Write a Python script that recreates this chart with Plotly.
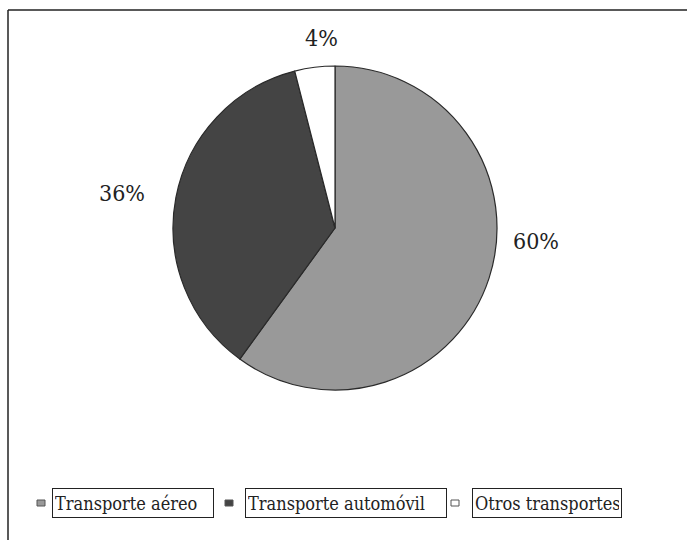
import plotly.graph_objects as go

# Data
categories = ["Transporte aéreo", "Transporte automóvil", "Otros transportes"]
values = [60, 36, 4]
colors = ["#999999", "#444444", "#ffffff"]
pct_labels = ["60%", "36%", "4%"]

W, H = 687, 540
SERIF = "DejaVu Serif Condensed, DejaVu Serif"

def px(x):
    return x / W

def py(y):
    return 1 - y / H

fig = go.Figure()
fig.add_trace(go.Pie(
    labels=categories,
    values=values,
    sort=False,
    direction="clockwise",
    rotation=0,
    marker=dict(colors=colors, line=dict(color="#2a2a2a", width=1.2)),
    textinfo="none",
    hoverinfo="label+percent",
    showlegend=False,
    domain=dict(x=[px(172), px(498)], y=[py(390), py(66)]),
))

label_pos = [(536, 241), (122, 193), (321, 38)]
annotations = []
for txt, (lx, ly) in zip(pct_labels, label_pos):
    annotations.append(dict(
        x=px(lx), y=py(ly), xref="paper", yref="paper",
        text=txt, showarrow=False, xanchor="center", yanchor="middle",
        font=dict(family=SERIF, size=23, color="#222222"),
    ))

marker_x = [41, 229, 455]
box_left = [52, 245, 472]
box_width = [162, 202, 150]
legend_y = 503
shapes = []
for i, cat in enumerate(categories):
    mx = marker_x[i]
    shapes.append(dict(
        type="rect", xref="paper", yref="paper",
        x0=px(mx - 4), x1=px(mx + 4), y0=py(legend_y + 3), y1=py(legend_y - 3),
        fillcolor=colors[i], line=dict(color="#555555", width=1),
    ))
    annotations.append(dict(
        x=px(box_left[i]), y=py(legend_y), xref="paper", yref="paper",
        text=cat, showarrow=False, xanchor="left", yanchor="middle",
        align="left", width=box_width[i] - 6, height=24,
        bordercolor="#222222", borderwidth=1, borderpad=2,
        font=dict(family=SERIF, size=18, color="#222222"),
    ))

shapes.append(dict(type="line", xref="paper", yref="paper",
                   x0=px(8), x1=px(8), y0=-0.05, y1=py(10),
                   line=dict(color="#222222", width=1.5)))
shapes.append(dict(type="line", xref="paper", yref="paper",
                   x0=px(8), x1=1.05, y0=py(10), y1=py(10),
                   line=dict(color="#222222", width=1.5)))

fig.update_layout(
    width=W, height=H,
    margin=dict(l=0, r=0, t=0, b=0),
    paper_bgcolor="white", plot_bgcolor="white",
    font=dict(family=SERIF),
    annotations=annotations,
    shapes=shapes,
)

fig.write_html("out.html")
